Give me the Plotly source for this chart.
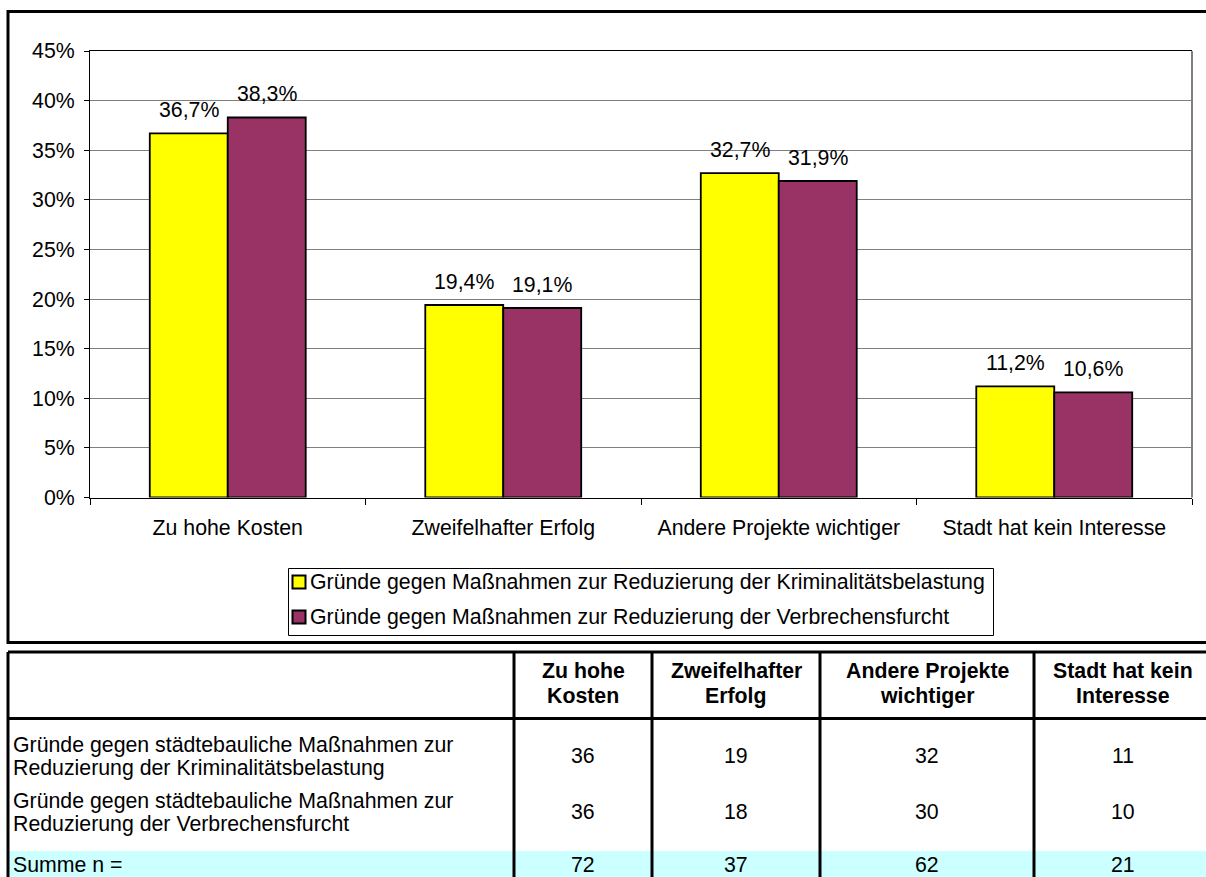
import plotly.graph_objects as go

# data
categories = ["Zu hohe Kosten", "Zweifelhafter Erfolg", "Andere Projekte wichtiger", "Stadt hat kein Interesse"]
series_names = [
    "Gründe gegen Maßnahmen zur Reduzierung der Kriminalitätsbelastung",
    "Gründe gegen Maßnahmen zur Reduzierung der Verbrechensfurcht",
]
krim_pct = [36.7, 19.4, 32.7, 11.2]
furcht_pct = [38.3, 19.1, 31.9, 10.6]
y_ticks = [0, 5, 10, 15, 20, 25, 30, 35, 40, 45]

# table below the chart
table_header = [["Zu hohe", "Kosten"], ["Zweifelhafter", "Erfolg"], ["Andere Projekte", "wichtiger"], ["Stadt hat kein", "Interesse"]]
row_labels = [
    ["Gründe gegen städtebauliche Maßnahmen zur", "Reduzierung der Kriminalitätsbelastung"],
    ["Gründe gegen städtebauliche Maßnahmen zur", "Reduzierung der Verbrechensfurcht"],
    ["Summe n ="],
]
krim_n = [36, 19, 32, 11]
furcht_n = [36, 18, 30, 10]
summe_n = [72, 37, 62, 21]

W, H = 1206, 877
FONT = "Liberation Sans, Arial, sans-serif"
FS = 21.3
YELLOW = "#FFFF00"
PURPLE = "#993366"
colors = [YELLOW, PURPLE]


def X(px):
    return px / W


def Y(py):
    return 1 - py / H


fig = go.Figure()
for name, vals, col in zip(series_names, [krim_pct, furcht_pct], colors):
    fig.add_trace(go.Bar(
        x=categories, y=vals, name=name,
        marker=dict(color=col, line=dict(color="black", width=1.8)),
        hoverinfo="skip", showlegend=False,
    ))

# value labels above the bars
annotations = []
for vals, shift in [(krim_pct, -39), (furcht_pct, 39)]:
    for c, v in zip(categories, vals):
        annotations.append(dict(
            x=c, y=v, xref="x", yref="y", xshift=shift, yshift=23,
            text=f"{v:.1f}%".replace(".", ","), showarrow=False,
            font=dict(size=FS, color="black", family=FONT), yanchor="middle",
        ))

shapes = []

# legend drawn by hand (box, swatches, labels)
shapes.append(dict(type="rect", xref="paper", yref="paper", x0=X(288.5), x1=X(993.5), y0=Y(635.5), y1=Y(568.5),
                   line=dict(color="black", width=1), fillcolor="white"))
for k, (name, col) in enumerate(zip(series_names, colors)):
    ly = 582 + 35 * k
    shapes.append(dict(type="rect", xref="paper", yref="paper", x0=X(292.5), x1=X(305.5),
                       y0=Y(ly + 6.5), y1=Y(ly - 6.5), fillcolor=col, line=dict(color="black", width=2)))
    annotations.append(dict(x=X(308), y=Y(ly), xref="paper", yref="paper", text=name, showarrow=False,
                            xanchor="left", yanchor="middle", font=dict(size=FS, color="black", family=FONT)))

# table
col_edges = [8, 514, 652, 820, 1034, 1212]
centers = [(col_edges[i] + col_edges[i + 1]) / 2 for i in range(1, 5)]
header_y = [671, 696]
for cx, lines in zip(centers, table_header):
    for ly, t in zip(header_y, lines):
        annotations.append(dict(x=X(cx), y=Y(ly), xref="paper", yref="paper", text=f"<b>{t}</b>",
                                showarrow=False, xanchor="center", yanchor="middle",
                                font=dict(size=FS, color="black", family=FONT)))

row_y = [756, 812, 865]
for ry, lines, vals in zip(row_y, row_labels, [krim_n, furcht_n, summe_n]):
    n = len(lines)
    for k, t in enumerate(lines):
        ly = ry + (k - (n - 1) / 2) * 23
        annotations.append(dict(x=X(11), y=Y(ly), xref="paper", yref="paper", text=t,
                                showarrow=False, xanchor="left", yanchor="middle",
                                font=dict(size=FS, color="black", family=FONT)))
    for cx, v in zip(centers, vals):
        annotations.append(dict(x=X(cx), y=Y(ry), xref="paper", yref="paper", text=str(v),
                                showarrow=False, xanchor="center", yanchor="middle",
                                font=dict(size=FS, color="black", family=FONT)))

shapes += [
    # summe row background
    dict(type="rect", xref="paper", yref="paper", x0=X(8), x1=X(1215), y0=Y(885), y1=Y(851),
         fillcolor="#CCFFFF", line=dict(width=0), layer="below"),
    # outer chart frame
    dict(type="rect", xref="paper", yref="paper", x0=X(8), x1=X(1215), y0=Y(642.5), y1=Y(11.5),
         line=dict(color="black", width=3)),
    # right edge of plot area
    dict(type="line", xref="x domain", yref="y domain", x0=1, x1=1, y0=0, y1=1,
         line=dict(color="#808080", width=2)),
    # table lines
    dict(type="line", xref="paper", yref="paper", x0=X(8), x1=X(1215), y0=Y(652), y1=Y(652),
         line=dict(color="black", width=3)),
    dict(type="line", xref="paper", yref="paper", x0=X(8), x1=X(1215), y0=Y(718.5), y1=Y(718.5),
         line=dict(color="black", width=3)),
]
for ex in col_edges[:5]:
    shapes.append(dict(type="line", xref="paper", yref="paper", x0=X(ex), x1=X(ex), y0=Y(652), y1=Y(885),
                       line=dict(color="black", width=3)))

fig.update_layout(
    template="none",
    width=W, height=H,
    margin=dict(l=0, r=0, t=0, b=0, autoexpand=False),
    paper_bgcolor="white", plot_bgcolor="white",
    font=dict(family=FONT, size=FS, color="black"),
    barmode="group", bargap=0.434, bargroupgap=0,
    showlegend=False,
    annotations=annotations,
    shapes=shapes,
)
fig.update_xaxes(
    domain=[X(90), X(1192)], automargin=False,
    showline=True, linecolor="black", linewidth=1, mirror=True,
    ticks="outside", tickson="boundaries", ticklen=6, tickcolor="black",
    ticklabelstandoff=11, showgrid=False,
)
fig.update_yaxes(
    domain=[Y(497.5), Y(51)], automargin=False, range=[0, 45],
    tickvals=y_ticks, ticktext=[f"{t}%" for t in y_ticks],
    showline=True, linecolor="black", linewidth=1,
    ticks="outside", ticklen=5, tickcolor="black", ticklabelstandoff=5,
    showgrid=True, gridcolor="#808080", gridwidth=1, zeroline=False,
)

# page body margin would shift the figure, so drop it
fig.write_html("out.html", config={"displayModeBar": False},
               post_script="document.body.style.margin='0';document.body.style.overflow='hidden';")
